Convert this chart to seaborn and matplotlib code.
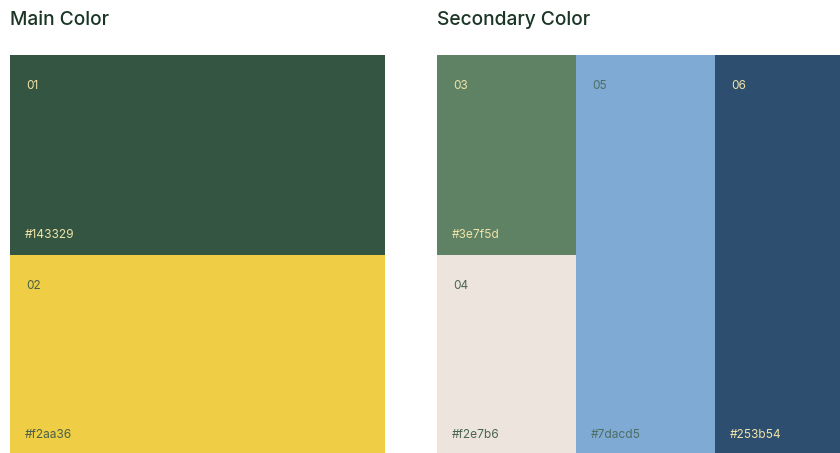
import matplotlib
matplotlib.use("Agg")
import matplotlib.pyplot as plt
import seaborn as sns
import pandas as pd

# Palette data
main_ids = ["01", "02"]
main_hex = ["#143329", "#f2aa36"]
main_fill = ["#335541", "#efcd45"]
main_text = ["#efe3a8", "#4a6148"]

sec_ids = ["03", "04", "05", "06"]
sec_hex = ["#3e7f5d", "#f2e7b6", "#7dacd5", "#253b54"]
sec_fill = ["#5f8265", "#ede5dd", "#7eaad3", "#2d4e6e"]
sec_text = ["#efe3a8", "#4a6650", "#4e6e63", "#efe3a8"]
# column each secondary swatch sits in, and how many rows it spans
sec_col = [0, 0, 1, 2]
sec_span = [1, 1, 2, 2]

sns.set_theme(style="white")
plt.rcParams["font.family"] = ["Inter", "DejaVu Sans"]

W, H = 840, 453
fig = plt.figure(figsize=(W / 100, H / 100), dpi=100)
fig.patch.set_facecolor("white")

title_color = "#1b3526"
fig.text(10 / W, 1 - 20 / H, "Main Color", fontsize=13.8, color=title_color,
         va="center", ha="left", fontweight="medium")
fig.text(437 / W, 1 - 20 / H, "Secondary Color", fontsize=13.8, color=title_color,
         va="center", ha="left", fontweight="medium")

top_px, block_px, col_px = 55, 200, 139


def make_ax(left_px, ncols, width_px):
    ax = fig.add_axes([left_px / W, 1 - (top_px + 2 * block_px) / H,
                       width_px / W, 2 * block_px / H])
    ax.set_xlim(0, ncols)
    ax.set_ylim(2, 0)
    ax.axis("off")
    return ax


def label(ax, x, top, span, ident, hexcode, tc):
    ax.text(x + 16 / col_w[ax], top + 31 / block_px, ident, fontsize=8.5,
            color=tc, va="center", ha="left")
    ax.text(x + 15 / col_w[ax], top + span - 20 / block_px, hexcode,
            fontsize=8.6, color=tc, va="center", ha="left")


ax1 = make_ax(10, 1, 375)
ax2 = make_ax(437, 3, 3 * col_px)
col_w = {ax1: 375, ax2: col_px}

main = pd.DataFrame({"id": main_ids, "hex": main_hex, "fill": main_fill,
                     "text": main_text})
for i, r in main.iterrows():
    ax1.bar(0, 1, width=1, bottom=i, align="edge", color=r["fill"],
            edgecolor="none")
    label(ax1, 0, i, 1, r["id"], r["hex"], r["text"])

sec = pd.DataFrame({"id": sec_ids, "hex": sec_hex, "fill": sec_fill,
                    "text": sec_text, "col": sec_col, "span": sec_span})
row_bottom = {}
for _, r in sec.iterrows():
    b = row_bottom.get(r["col"], 0)
    ax2.bar(r["col"], r["span"], width=1, bottom=b, align="edge",
            color=r["fill"], edgecolor="none")
    label(ax2, r["col"], b, r["span"], r["id"], r["hex"], r["text"])
    row_bottom[r["col"]] = b + r["span"]

fig.savefig("out.png", dpi=100, facecolor="white")
